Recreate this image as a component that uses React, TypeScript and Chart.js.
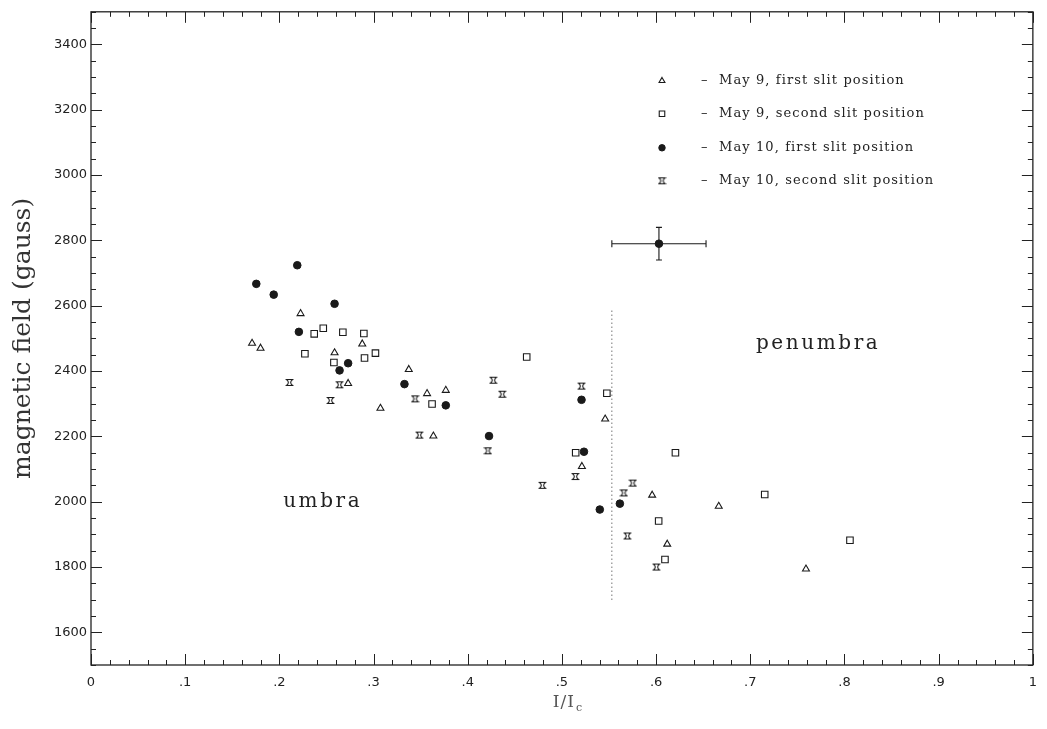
import React, { useEffect, useRef } from 'react';
import { Chart, registerables } from 'chart.js';
import { drawPoint } from 'chart.js/helpers';

Chart.register(...registerables);

// ---------- data ----------
const seriesNames = [
  'May 9, first slit position',
  'May 9, second slit position',
  'May 10, first slit position',
  'May 10, second slit position',
];

const may9FirstX = [0.171, 0.180, 0.2225, 0.2586, 0.273, 0.288, 0.3073, 0.3374, 0.3568, 0.3767, 0.3635, 0.5459, 0.5212, 0.5958, 0.6118, 0.6665, 0.7591];
const may9FirstY = [2485, 2470, 2576, 2456, 2362, 2483, 2286, 2405, 2331, 2341, 2201, 2253, 2108, 2020, 1870, 1986, 1794];

const may9SecondX = [0.237, 0.2466, 0.2674, 0.2897, 0.2271, 0.2579, 0.2904, 0.302, 0.3621, 0.4626, 0.5477, 0.5146, 0.6027, 0.6094, 0.6205, 0.7153, 0.8058];
const may9SecondY = [2514, 2531, 2519, 2515, 2453, 2426, 2440, 2455, 2299, 2443, 2332, 2150, 1941, 1823, 2150, 2022, 1882];

const may10FirstX = [0.1755, 0.194, 0.219, 0.2586, 0.2207, 0.2639, 0.273, 0.3328, 0.3767, 0.4226, 0.5208, 0.5234, 0.5402, 0.5615];
const may10FirstY = [2667, 2634, 2724, 2606, 2520, 2402, 2424, 2360, 2295, 2201, 2312, 2153, 1976, 1994];

const may10SecondX = [0.2108, 0.2639, 0.2543, 0.3441, 0.3487, 0.4272, 0.4367, 0.5208, 0.4214, 0.5143, 0.4793, 0.5657, 0.5752, 0.5695, 0.6003];
const may10SecondY = [2365, 2358, 2310, 2315, 2204, 2372, 2329, 2354, 2156, 2077, 2050, 2027, 2057, 1895, 1800];

// representative error bar
const errorX = [0.603];
const errorY = [2790];
const errorDX = [0.05];
const errorDY = [50];

// umbra / penumbra boundary
const boundaryX = [0.553];
const boundaryY = [1700, 2585];

const regionLabels = ['umbra', 'penumbra'];
const regionX = [0.246, 0.772];
const regionY = [2000, 2483];

const xTickLabels = ['0', '.1', '.2', '.3', '.4', '.5', '.6', '.7', '.8', '.9', '1'];
const yTickValues = [1600, 1800, 2000, 2200, 2400, 2600, 2800, 3000, 3200, 3400];

const xMin = 0, xMax = 1, yMin = 1500, yMax = 3500;

const INK = '#1a1a1a';

function makeHourglass(): HTMLCanvasElement {
  const c = document.createElement('canvas');
  c.width = 9;
  c.height = 9;
  const g = c.getContext('2d')!;
  g.strokeStyle = INK;
  g.lineWidth = 1.1;
  g.beginPath();
  g.moveTo(1.5, 1.5);
  g.lineTo(7.5, 1.5);
  g.quadraticCurveTo(3.8, 4.5, 7.5, 7.5);
  g.lineTo(1.5, 7.5);
  g.quadraticCurveTo(5.2, 4.5, 1.5, 1.5);
  g.closePath();
  g.stroke();
  return c;
}

const toPts = (xs: number[], ys: number[]) => xs.map((x, i) => ({ x, y: ys[i] }));

export default function App() {
  const ref = useRef<HTMLCanvasElement | null>(null);

  useEffect(() => {
    const canvas = ref.current;
    if (!canvas) return;
    const hourglass = makeHourglass();

    const markerStyles: any[] = [
      { pointStyle: 'triangle', radius: 4, fill: 'rgba(0,0,0,0)', borderWidth: 1.1 },
      { pointStyle: 'rect', radius: 4.6, fill: 'rgba(0,0,0,0)', borderWidth: 1.1 },
      { pointStyle: 'circle', radius: 3.8, fill: INK, borderWidth: 1 },
      { pointStyle: hourglass, radius: 4, fill: 'rgba(0,0,0,0)', borderWidth: 1 },
    ];

    const seriesX = [may9FirstX, may9SecondX, may10FirstX, may10SecondX];
    const seriesY = [may9FirstY, may9SecondY, may10FirstY, may10SecondY];

    const datasets: any[] = seriesNames.map((name, i) => ({
      label: name,
      data: toPts(seriesX[i], seriesY[i]),
      pointStyle: markerStyles[i].pointStyle,
      pointRadius: markerStyles[i].radius,
      pointBackgroundColor: markerStyles[i].fill,
      pointBorderColor: INK,
      pointBorderWidth: markerStyles[i].borderWidth,
      showLine: false,
    }));
    datasets.push({
      label: 'error',
      data: toPts(errorX, errorY),
      pointStyle: 'circle',
      pointRadius: 3.8,
      pointBackgroundColor: INK,
      pointBorderColor: INK,
      pointBorderWidth: 1,
      showLine: false,
    });

    const decor = {
      id: 'decor',
      beforeDatasetsDraw(chart: any) {
        const { ctx, scales } = chart;
        const xs = scales.x, ys = scales.y;
        ctx.save();
        // dotted boundary line
        ctx.strokeStyle = '#333';
        ctx.lineWidth = 1;
        ctx.setLineDash([1, 3]);
        const bx = xs.getPixelForValue(boundaryX[0]);
        ctx.beginPath();
        ctx.moveTo(bx, ys.getPixelForValue(boundaryY[0]));
        ctx.lineTo(bx, ys.getPixelForValue(boundaryY[1]));
        ctx.stroke();
        ctx.setLineDash([]);
        // error bars
        ctx.strokeStyle = INK;
        ctx.lineWidth = 1.1;
        errorX.forEach((ex, i) => {
          const px = xs.getPixelForValue(ex);
          const py = ys.getPixelForValue(errorY[i]);
          const x0 = xs.getPixelForValue(ex - errorDX[i]);
          const x1 = xs.getPixelForValue(ex + errorDX[i]);
          const y0 = ys.getPixelForValue(errorY[i] - errorDY[i]);
          const y1 = ys.getPixelForValue(errorY[i] + errorDY[i]);
          ctx.beginPath();
          ctx.moveTo(x0, py); ctx.lineTo(x1, py);
          ctx.moveTo(x0, py - 3.5); ctx.lineTo(x0, py + 3.5);
          ctx.moveTo(x1, py - 3.5); ctx.lineTo(x1, py + 3.5);
          ctx.moveTo(px, y0); ctx.lineTo(px, y1);
          ctx.moveTo(px - 3, y0); ctx.lineTo(px + 3, y0);
          ctx.moveTo(px - 3, y1); ctx.lineTo(px + 3, y1);
          ctx.stroke();
        });
        ctx.restore();
      },
      afterDraw(chart: any) {
        const { ctx, chartArea: a, scales } = chart;
        const xs = scales.x, ys = scales.y;
        ctx.save();
        // frame
        ctx.strokeStyle = '#222';
        ctx.lineWidth = 1.3;
        ctx.strokeRect(a.left, a.top, a.right - a.left, a.bottom - a.top);
        // ticks
        ctx.lineWidth = 1;
        ctx.beginPath();
        for (let i = 0; i <= 40; i++) {
          const v = yMin + i * 50;
          const len = v % 200 === 0 ? 11 : 5;
          const py = Math.round(ys.getPixelForValue(v)) + 0.5;
          ctx.moveTo(a.left, py); ctx.lineTo(a.left + len, py);
          ctx.moveTo(a.right, py); ctx.lineTo(a.right - len, py);
        }
        for (let i = 0; i <= 50; i++) {
          const v = xMin + i * 0.02;
          const len = i % 5 === 0 ? 11 : 5;
          const px = Math.round(xs.getPixelForValue(v)) + 0.5;
          ctx.moveTo(px, a.bottom); ctx.lineTo(px, a.bottom - len);
          ctx.moveTo(px, a.top); ctx.lineTo(px, a.top + len);
        }
        ctx.stroke();

        // region labels
        ctx.fillStyle = '#222';
        ctx.font = '20px "DejaVu Serif"';
        (ctx as any).letterSpacing = '2.6px';
        ctx.textAlign = 'center';
        ctx.textBaseline = 'middle';
        regionLabels.forEach((t, i) => {
          ctx.fillText(t, xs.getPixelForValue(regionX[i]), ys.getPixelForValue(regionY[i]));
        });

        // legend
        const rows = [73, 106, 140, 173];
        const symX = 662;
        seriesNames.forEach((name, i) => {
          const y = a.top + rows[i] - 4;
          const st = markerStyles[i];
          ctx.fillStyle = st.fill;
          ctx.strokeStyle = INK;
          ctx.lineWidth = st.borderWidth;
          drawPoint(ctx, { pointStyle: st.pointStyle, radius: st.radius * 0.85, rotation: 0, borderWidth: st.borderWidth } as any, symX, y);
          ctx.fillStyle = '#222';
          ctx.textAlign = 'left';
          ctx.textBaseline = 'middle';
          ctx.font = '13px "DejaVu Serif"';
          (ctx as any).letterSpacing = '0px';
          ctx.fillText('\u2013', 701, y);
          (ctx as any).letterSpacing = '1.1px';
          ctx.fillText(name, 719, y);
        });

        // x-axis title with subscript
        (ctx as any).letterSpacing = '1px';
        ctx.fillStyle = '#555';
        ctx.textBaseline = 'alphabetic';
        ctx.textAlign = 'left';
        ctx.font = '17px "DejaVu Serif"';
        const main = 'I/I';
        const w = ctx.measureText(main).width;
        const cx = xs.getPixelForValue(0.5) + 6;
        ctx.fillText(main, cx - w / 2 - 4, a.bottom + 42);
        ctx.font = '11px "DejaVu Serif"';
        ctx.fillText('c', cx + w / 2 - 3, a.bottom + 46);
        ctx.restore();
      },
    };

    const chart = new Chart(canvas, {
      type: 'scatter',
      data: { datasets },
      options: {
        animation: false,
        responsive: false,
        events: [],
        layout: { padding: { top: 4, right: 13, left: 0, bottom: 0 } },
        plugins: {
          legend: { display: false },
          tooltip: { enabled: false },
        },
        scales: {
          x: {
            type: 'linear',
            min: xMin,
            max: xMax,
            afterFit: (s: any) => { s.height = 64; },
            grid: { display: false, drawTicks: false },
            border: { display: false },
            ticks: {
              stepSize: 0.1,
              padding: 10,
              color: '#222',
              font: { family: '"DejaVu Sans"', size: 13 },
              maxRotation: 0,
              autoSkip: false,
              callback: (_v: any, i: number) => xTickLabels[i] ?? '',
            },
          },
          y: {
            type: 'linear',
            min: yMin,
            max: yMax,
            afterFit: (s: any) => { s.width = 91; },
            grid: { display: false, drawTicks: false },
            border: { display: false },
            title: {
              display: true,
              text: 'magnetic field (gauss)',
              color: '#333',
              font: { family: '"DejaVu Serif"', size: 25 },
              padding: { top: 8, bottom: 0 },
            },
            ticks: {
              stepSize: 100,
              padding: 4,
              color: '#222',
              font: { family: '"DejaVu Sans"', size: 13 },
              autoSkip: false,
              callback: (v: any) => (yTickValues.includes(Number(v)) ? String(v) : ''),
            },
          },
        },
      },
      plugins: [decor],
    });
    return () => chart.destroy();
  }, []);

  return (
    <div style={{ position: 'fixed', left: 0, top: 0, width: 1047, height: 729, background: '#fff' }}>
      <canvas ref={ref} width={1047} height={729} />
    </div>
  );
}
